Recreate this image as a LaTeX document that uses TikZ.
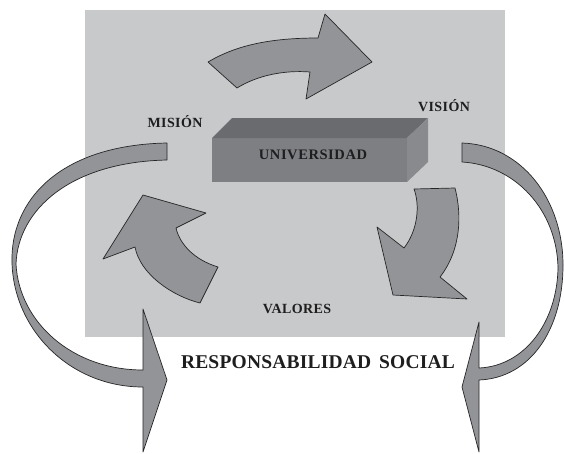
\documentclass[tikz,border=0pt]{standalone}
\usepackage{fontspec}
\setmainfont{Liberation Serif}
\begin{document}
\begin{tikzpicture}[x=1pt,y=-1pt,
  arrowshape/.style={fill=arrowgray, draw=black!85, line width=0.7pt, line join=round},
  label/.style={font=\bfseries\fontsize{14}{14}\selectfont\addfontfeature{LetterSpace=3}, text=textdark, inner sep=0pt, anchor=center},
  bigtext/.style={font=\bfseries\fontsize{19.5}{20}\selectfont\addfontfeature{LetterSpace=1}, text=textdark, inner sep=0pt, anchor=center}]
\definecolor{bggray}{HTML}{C8C9CB}
\definecolor{arrowgray}{HTML}{939498}
\definecolor{frontgray}{HTML}{7E7F83}
\definecolor{topgray}{HTML}{6A6B6F}
\definecolor{sidegray}{HTML}{898A8E}
\definecolor{textdark}{HTML}{1E1E1E}
\useasboundingbox (0,0) rectangle (564,453);
\fill[white] (0,0) rectangle (564,453);
% background panel
\fill[bggray] (85,10) rectangle (505,337);
% top arrow
\path[arrowshape] (208,62) .. controls (235,46) and (268,38) .. (318,38) -- (325,14) -- (372,62) -- (306,99) -- (310,72) .. controls (285,70) and (258,75) .. (237,88) -- cycle;
% lower-left arrow
\path[arrowshape] (143,195) -- (206,213) -- (176,228) .. controls (180,245) and (195,260) .. (218,267) -- (200,303) .. controls (172,296) and (140,274) .. (135,247) -- (103,259) -- cycle;
% lower-right arrow
\path[arrowshape] (414,189) -- (455,188) .. controls (462,215) and (461,250) .. (440,277) -- (467,299) -- (393,295) -- (377,227) -- (404,248) .. controls (418,230) and (420,205) .. (414,189) -- cycle;
% university box
\fill[frontgray] (212,138) rectangle (407,182);
\fill[topgray] (212,138) -- (232,118) -- (428,118) -- (407,138) -- cycle;
\fill[sidegray] (407,138) -- (428,118) -- (428,162) -- (407,182) -- cycle;
\node[label, font=\bfseries\fontsize{14.5}{15}\selectfont\addfontfeature{LetterSpace=4}] (univ) at (313,155) {UNIVERSIDAD};
% big left arrow
\path[arrowshape] (167,143) .. controls (60,145) and (10,200) .. (12,263) .. controls (14,330) and (70,387) .. (143,387) -- (143,452) -- (167,380) -- (143,309) -- (143,370) .. controls (72,370) and (19,322) .. (16,264) .. controls (18,210) and (70,162) .. (167,160) -- cycle;
% big right arrow
\path[arrowshape] (462,143) .. controls (522,145) and (563,200) .. (563,265) .. controls (563,330) and (530,378) .. (479,380) -- (479,452) -- (462,387) -- (479,322) -- (479,368) .. controls (525,366) and (557,322) .. (558,268) .. controls (557,210) and (515,165) .. (462,162) -- cycle;
% labels
\node[label] (mision) at (175,122) {MISIÓN};
\node[label] (vision) at (444,106) {VISIÓN};
\node[label] (valores) at (297,309) {VALORES};
\node[bigtext] (resp) at (318,362) {RESPONSABILIDAD\hspace{8pt}SOCIAL};
\end{tikzpicture}
\end{document}
